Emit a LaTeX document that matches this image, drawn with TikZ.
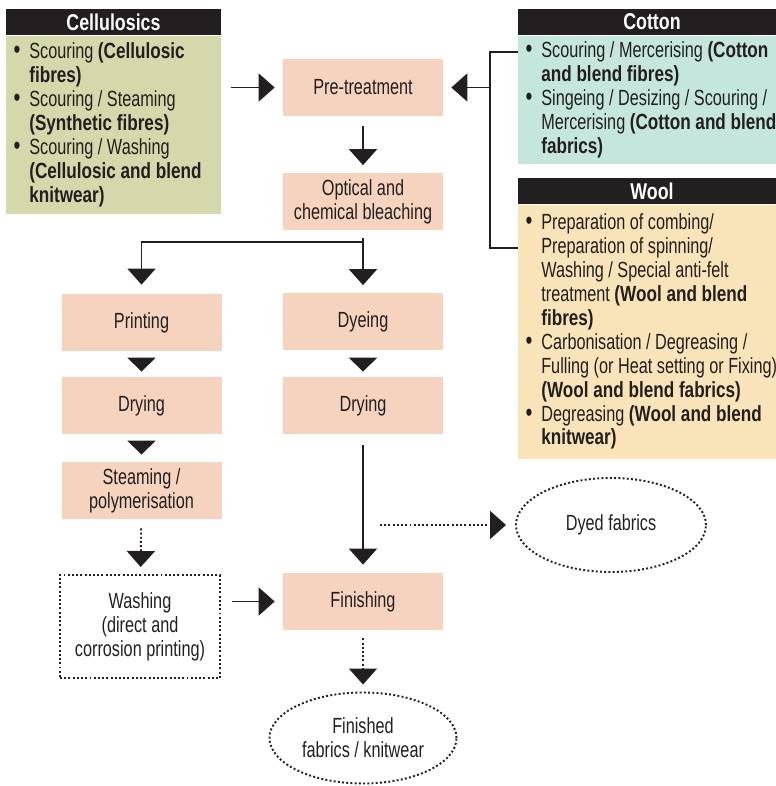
\documentclass[tikz,border=0pt]{standalone}
\usepackage{fontspec}
\setmainfont{Liberation Sans}[FakeStretch=0.74,BoldFeatures={FakeStretch=0.78}]
\usetikzlibrary{arrows.meta,shapes.geometric}
\definecolor{ink}{HTML}{231F20}
\definecolor{peach}{HTML}{F5D3BE}
\definecolor{celgreen}{HTML}{D4D8AA}
\definecolor{cotblue}{HTML}{C5E6DC}
\definecolor{woolyel}{HTML}{F9E4B9}
\newcommand{\bitem}[1]{\mbox{\spaceskip=0pt\relax\makebox[9pt][l]{\fontsize{15}{15}\selectfont\textbullet}#1}}
\newcommand{\bmore}[1]{\mbox{\spaceskip=0pt\relax\hspace*{9pt}#1}}
\tikzset{
  stage/.style={fill=peach, text=ink, minimum width=3.2cm, minimum height=1.14cm,
    inner sep=0pt, align=center, font=\fontsize{12.5}{13.6}\selectfont},
  head/.style={fill=ink, text=white, minimum height=0.52cm, inner sep=0pt,
    font=\fontsize{13}{14}\selectfont\bfseries},
  list/.style={text=ink, align=left, inner xsep=0.15cm, inner ysep=0pt, anchor=north,
    font=\fontsize{12.5}{13.6}\selectfont},
  dots/.style={line width=1.1pt, dash pattern=on 1.1pt off 1.3pt},
  outcome/.style={ellipse, draw=ink, dots, text=ink, align=center, inner sep=0pt,
    font=\fontsize{12.5}{13.6}\selectfont},
  line/.style={draw=ink, line width=1.1pt},
  arr/.style={line, -{Triangle[length=3.2mm,width=5.6mm]}},
  headonly/.style={line, -{Triangle[length=2.8mm,width=5.6mm]}, shorten <=1.4mm, shorten >=1mm}
}
\begin{document}
\begin{tikzpicture}
         \useasboundingbox (0,0) rectangle (15.52,15.72);
         % source boxes
         \node[head, minimum width=4.3cm] (CEh) at (2.27, 15.28) {Cellulosics};
         \node[list, fill=celgreen, text width=4cm, minimum height=3.56cm] (CE) at (CEh.south) {%
           \bitem{Scouring \textbf{(Cellulosic}}\\
           \bmore{\textbf{fibres)}}\\
           \bitem{Scouring / Steaming}\\
           \bmore{\textbf{(Synthetic fibres)}}\\
           \bitem{Scouring / Washing}\\
           \bmore{\textbf{(Cellulosic and blend}}\\
           \bmore{\textbf{knitwear)}}};
         \node[head, minimum width=5.36cm] (COh) at (13.04, 15.28) {Cotton};
         \node[list, fill=cotblue, text width=5.06cm, minimum height=2.56cm] (CO) at (COh.south) {%
           \bitem{Scouring / Mercerising \textbf{(Cotton}}\\
           \bmore{\textbf{and blend fibres)}}\\
           \bitem{Singeing / Desizing / Scouring /}\\
           \bmore{Mercerising \textbf{(Cotton and blend}}\\
           \bmore{\textbf{fabrics)}}};
         \node[head, minimum width=5.36cm] (WOh) at (13.04, 11.9) {Wool};
         \node[list, fill=woolyel, text width=5.06cm, minimum height=5.08cm] (WO) at (WOh.south) {%
           \bitem{Preparation of combing/}\\
           \bmore{Preparation of spinning/}\\
           \bmore{Washing / Special anti-felt}\\
           \bmore{treatment \textbf{(Wool and blend}}\\
           \bmore{\textbf{fibres)}}\\
           \bitem{Carbonisation / Degreasing /}\\
           \bmore{Fulling (or Heat setting or Fixing)}\\
           \bmore{\textbf{(Wool and blend fabrics)}}\\
           \bitem{Degreasing \textbf{(Wool and blend}}\\
           \bmore{\textbf{knitwear)}}};
         % process steps
         \node[stage] (PT) at (7.26, 13.97) {Pre-treatment};
         \node[stage] (OB) at (7.26, 11.68) {Optical and\\chemical bleaching};
         \node[stage] (PR) at (2.83, 9.27) {Printing};
         \node[stage] (DY) at (7.26, 9.28) {Dyeing};
         \node[stage] (DL) at (2.83, 7.61) {Drying};
         \node[stage] (DR) at (7.26, 7.61) {Drying};
         \node[stage] (ST) at (2.83, 5.91) {Steaming /\\polymerisation};
         \node[stage, fill=none, draw=ink, dots, minimum height=2.06cm] (WA) at (2.80, 3.19) {Washing\\(direct and\\corrosion printing)};
         \node[stage] (FI) at (7.26, 3.69) {Finishing};
         \node[outcome, minimum width=3.8cm, minimum height=1.88cm] (DF) at (12.22, 5.22) {Dyed fabrics};
         \node[outcome, minimum width=3.74cm, minimum height=1.82cm] (FF) at (7.26, 0.96) {Finished\\fabrics / knitwear};
         \coordinate (BT) at (9.8, 14.68);
         \coordinate (BB) at (9.8, 10.76);
         \coordinate (SP) at (7.26, 10.88);
         \coordinate (DF0) at (7.6, 5.22);
         % connectors
         \draw[arr, shorten <=2mm, shorten >=1.6mm] (CE.east |- PT) -- (PT);
         \draw[line] (CO.west |- BT) -- (BT) -- (BB) -- (WO.west |- BB);
         \draw[arr, shorten >=1.6mm] (BT |- PT) -- (PT);
         \draw[arr, shorten <=2mm, shorten >=1.6mm] (PT) -- (OB);
         \draw[arr, shorten <=1.4mm, shorten >=1.6mm] (OB) -- (DY);
         \draw[arr, shorten >=1.8mm] (SP) -| (PR);
         \draw[headonly] (PR) -- (DL);
         \draw[headonly] (DY) -- (DR);
         \draw[headonly, shorten >=1.4mm] (DL) -- (ST);
         \draw[arr, shorten <=2.2mm, shorten >=1.6mm] (DR) -- (FI);
         \draw[arr, dots, shorten <=1.8mm, shorten >=1.4mm] (ST) -- (WA);
         \draw[arr, shorten <=2.2mm, shorten >=1.6mm] (WA.east |- FI) -- (FI);
         \draw[arr, dots, shorten <=1.6mm, shorten >=1.4mm] (FI) -- (FF);
         \draw[arr, dots, shorten >=1.8mm] (DF0) -- (DF);
\end{tikzpicture}
\end{document}
